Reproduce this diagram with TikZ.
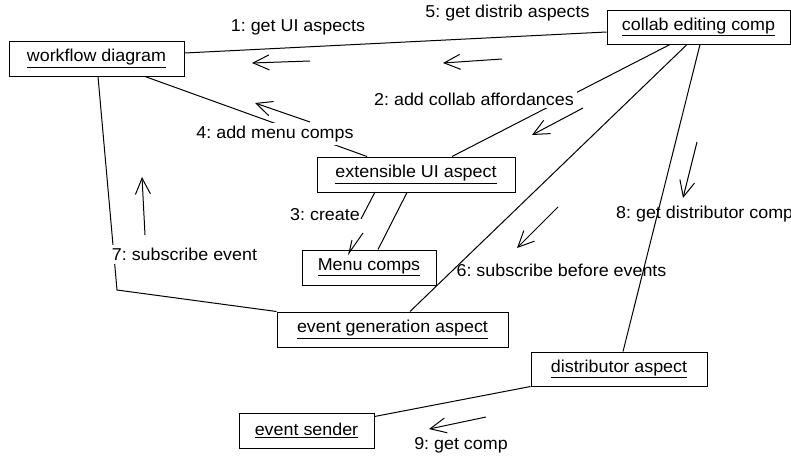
\documentclass[tikz,border=0pt]{standalone}
\usepackage{fontspec}
\setmainfont{Liberation Sans}[FakeStretch=1.04]
\usetikzlibrary{arrows.meta}

\begin{document}
\frenchspacing
\begin{tikzpicture}[x=1pt,y=-1pt,
  every node/.style={font=\fontsize{17.2}{20}\selectfont, inner sep=3pt},
  obj/.style={draw, line width=1pt, inner sep=0pt, minimum height=35pt},
  link/.style={line width=1pt},
  msg/.style={line width=1pt, -{Straight Barb[length=16pt,width=15pt,line width=1pt]}},
  msglabel/.style={},
  coverlabel/.style={fill=white}]

\useasboundingbox (0,0) rectangle (791,456);

% objects
\node[obj, minimum width=175pt] (wf)   at (96.5,58.5)  {\underline{workflow diagram}};
\node[obj, minimum width=183pt, minimum height=34pt] (ce) at (698.5,27) {\underline{collab editing comp}};
\node[obj, minimum width=198pt] (ext)  at (416,174.5)  {\underline{extensible UI aspect}};
\node[obj, minimum width=134pt] (menu) at (369,267.5)  {\underline{Menu comps}};
\node[obj, minimum width=231pt] (evg)  at (392.5,329.5){\underline{event generation aspect}};
\node[obj, minimum width=176pt, minimum height=34pt] (dist) at (619,369) {\underline{distributor aspect}};
\node[obj, minimum width=135pt] (snd)  at (306.5,430.5){\underline{event sender}};

% links between objects
\draw[link] ([yshift=5.5pt]wf.east) -- ([yshift=-5pt]ce.west);
\draw[link] ([xshift=48.5pt]wf.south) -- ([xshift=-49pt]ext.north);
\draw[link] ([xshift=-28.5pt]ce.south) -- ([xshift=36pt]ext.north);
\draw[link] ([xshift=-11.5pt]ce.south) -- ([xshift=17.5pt]evg.north);
\draw[link] ([xshift=1.5pt]ce.south) -- ([xshift=4pt]dist.north);
\coordinate (bend) at (117,290);
\draw[link] ([xshift=1.5pt]wf.south) -- (bend) -- (evg.north west);
\draw[link] ([xshift=-9pt]ext.south) -- ([xshift=9pt]menu.north);
\draw[link] (dist.south west) -- ([yshift=-4pt]snd.north east);

% message labels
\node[msglabel] (l1) at (298,27.5) {1: get UI aspects};
\node[msglabel] (l5) at (507.5,13) {5: get distrib aspects};
\node[coverlabel] (l2) at (474,99) {2: add collab affordances};
\node[coverlabel] (l4) at (275,134) {4: add menu comps};
\node[msglabel] (l3) at (325,215) {3: create};
\node[coverlabel] (l7) at (184.5,254.5) {7: subscribe event};
\node[msglabel] (l6) at (561.5,270.5) {6: subscribe before events};
\node[msglabel, anchor=west, inner sep=0pt] (l8) at (616,214.5) {8: get distributor comp};
\node[msglabel] (l9) at (461,445) {9: get comp};

% message arrows
\coordinate (m1s) at (310,61);  \coordinate (m1e) at (252,63);
\coordinate (m5s) at (502,59);  \coordinate (m5e) at (443,63);
\coordinate (m4s) at (310,122); \coordinate (m4e) at (255,103);
\coordinate (m2s) at (583,108); \coordinate (m2e) at (532,135);
\coordinate (m7s) at (145,235); \coordinate (m7e) at (142,177);
\coordinate (m6s) at (558,207); \coordinate (m6e) at (517,248);
\coordinate (m8s) at (697,142); \coordinate (m8e) at (683,198);
\coordinate (m9s) at (486,417); \coordinate (m9e) at (429,429);
\draw[msg] (m1s) -- (m1e);
\draw[msg] (m5s) -- (m5e);
\draw[msg] (m4s) -- (m4e);
\draw[msg] (m2s) -- (m2e);
\draw[msg] (m7s) -- (m7e);
\draw[msg] (m6s) -- (m6e);
\draw[msg] (m8s) -- (m8e);
\draw[msg] (m9s) -- (m9e);

% message 3: shaft stub and open head
\coordinate (m3s) at (375,192); \coordinate (m3m) at (361,219);
\coordinate (m3a) at (352,240); \coordinate (m3t) at (349,253); \coordinate (m3b) at (363,233);
\draw[link] (m3s) -- (m3m);
\draw[link] (m3a) -- (m3t) -- (m3b);

\end{tikzpicture}
\end{document}
